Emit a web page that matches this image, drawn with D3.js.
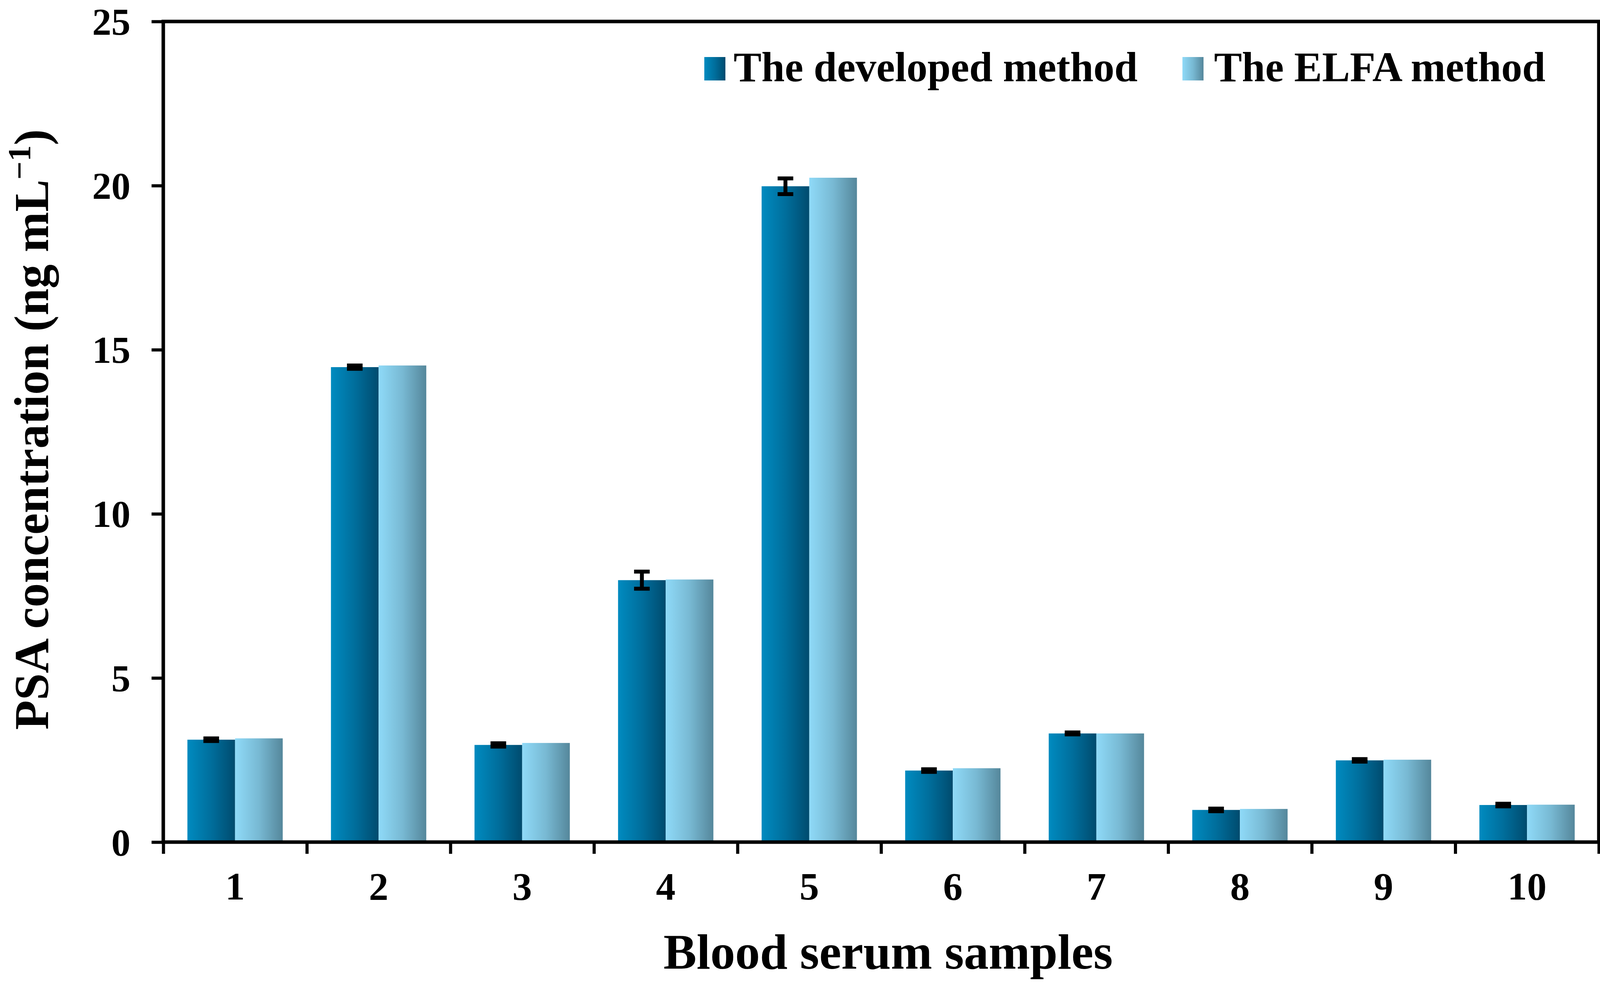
<!DOCTYPE html>
<html>
<head>
<meta charset="utf-8">
<script src="https://cdn.jsdelivr.net/npm/d3@7"></script>
<style>
	html, body { margin: 0; padding: 0; background: #fff; overflow: hidden; }
	svg { display: block; }
	text { font-family: "Liberation Serif", "Times New Roman", serif; font-weight: bold; fill: #000; }
</style>
</head>
<body>
<svg id="chart"></svg>
<script>
// data
const samples = ['1', '2', '3', '4', '5', '6', '7', '8', '9', '10'];
const seriesNames = ['The developed method', 'The ELFA method'];
const developedValues = [3.12, 14.47, 2.96, 7.98, 19.98, 2.18, 3.31, 0.98, 2.49, 1.13];
const developedErrors = [0.04, 0.05, 0.05, 0.26, 0.24, 0.04, 0.03, 0.04, 0.04, 0.04];
const elfaValues = [3.16, 14.52, 3.02, 8.00, 20.24, 2.25, 3.31, 1.01, 2.51, 1.14];
const yTicks = [0, 5, 10, 15, 20, 25];

const W = 4117, H = 2527;
const margin = { top: 55, right: 24, bottom: 371, left: 418 };
const width = W - margin.left - margin.right;
const height = H - margin.top - margin.bottom;

const svg = d3.select('#chart').attr('width', W).attr('height', H);
svg.append('rect').attr('width', W).attr('height', H).attr('fill', '#fff');

const defs = svg.append('defs');
const makeGradient = (id, stops) => {
	const g = defs.append('linearGradient').attr('id', id)
		.attr('x1', '0%').attr('x2', '100%').attr('y1', '0%').attr('y2', '0%');
	stops.forEach(([o, c]) => g.append('stop').attr('offset', o).attr('stop-color', c));
};
makeGradient('grad-dev', [['0%', '#008bc0'], ['50%', '#006e9c'], ['100%', '#004b6e']]);
makeGradient('grad-elfa', [['0%', '#8fdaf8'], ['50%', '#78b9d3'], ['100%', '#55879b']]);
const fills = ['url(#grad-dev)', 'url(#grad-elfa)'];

const g = svg.append('g').attr('transform', 'translate(' + margin.left + ',' + margin.top + ')');

// scales
const x0 = d3.scaleBand().domain(samples).range([0, width]).padding(0);
const x1 = d3.scaleBand().domain(seriesNames)
	.range([x0.bandwidth() * 0.168, x0.bandwidth() * 0.832]);
const xEdges = d3.scaleLinear().domain([0, samples.length]).range([0, width]);
const y = d3.scaleLinear().domain([0, 25]).range([height, 0]);

const rows = samples.map((s, i) => ({
	sample: s,
	bars: [
		{ key: seriesNames[0], value: developedValues[i], err: developedErrors[i] },
		{ key: seriesNames[1], value: elfaValues[i], err: 0 }
	]
}));

// bars
const groups = g.selectAll('.bar-group').data(rows).join('g')
	.attr('class', 'bar-group')
	.attr('transform', d => 'translate(' + x0(d.sample) + ',0)');

groups.selectAll('rect').data(d => d.bars).join('rect')
	.attr('x', d => x1(d.key))
	.attr('width', x1.bandwidth())
	.attr('y', d => y(d.value))
	.attr('height', d => height - y(d.value))
	.attr('fill', (d, i) => fills[i]);

// error bars on the developed method
const errG = groups.selectAll('.err').data(d => d.bars.filter(b => b.err > 0)).join('g')
	.attr('class', 'err')
	.attr('stroke', '#000')
	.attr('stroke-width', 10);
const cx = d => x1(d.key) + x1.bandwidth() / 2;
errG.append('line')
	.attr('x1', cx).attr('x2', cx)
	.attr('y1', d => y(d.value + d.err)).attr('y2', d => y(d.value - d.err));
[1, -1].forEach(s => {
	errG.append('line')
		.attr('x1', d => cx(d) - 20).attr('x2', d => cx(d) + 20)
		.attr('y1', d => y(d.value + s * d.err)).attr('y2', d => y(d.value + s * d.err));
});

// y axis
const yAxis = g.append('g').attr('class', 'y axis')
	.call(d3.axisLeft(y).tickValues(yTicks).tickSize(30).tickPadding(54));
yAxis.select('.domain').remove();
yAxis.selectAll('.tick line').attr('stroke', '#000').attr('stroke-width', 8);
yAxis.selectAll('.tick text').attr('font-size', 98).attr('dy', '0.34em')
	.style('font-family', '"Liberation Serif", serif').style('font-weight', 'bold');

// x axis: edge ticks and centred labels
const xTicks = g.append('g').attr('transform', 'translate(0,' + height + ')')
	.call(d3.axisBottom(xEdges).tickValues(d3.range(0, samples.length + 1)).tickSize(30).tickFormat(''));
xTicks.select('.domain').remove();
xTicks.selectAll('.tick line').attr('stroke', '#000').attr('stroke-width', 8);

const xAxis = g.append('g').attr('class', 'x axis').attr('transform', 'translate(0,' + height + ')')
	.call(d3.axisBottom(x0).tickSize(0).tickPadding(76));
xAxis.select('.domain').remove();
xAxis.selectAll('.tick text').attr('font-size', 100)
	.style('font-family', '"Liberation Serif", serif').style('font-weight', 'bold');

// frame
g.append('rect')
	.attr('x', 0).attr('y', 0).attr('width', width).attr('height', height)
	.attr('fill', 'none').attr('stroke', '#000').attr('stroke-width', 9);

// axis titles
svg.append('text')
	.attr('x', margin.left + width / 2 + 18).attr('y', 2480)
	.attr('text-anchor', 'middle').attr('font-size', 127)
	.text('Blood serum samples');

const yTitle = svg.append('text')
	.attr('transform', 'translate(123,' + (margin.top + height / 2 - 6) + ') rotate(-90)')
	.attr('text-anchor', 'middle').attr('font-size', 124);
yTitle.append('tspan').text('PSA concentration (ng mL');
yTitle.append('tspan').attr('dy', -46).attr('font-size', 82).text('\u22121');
yTitle.append('tspan').attr('dy', 46).text(')');

// legend
const legendItems = [
	{ name: seriesNames[0], swatchX: 1803, textX: 1878 },
	{ name: seriesNames[1], swatchX: 3027, textX: 3108 }
];
const legend = svg.append('g').attr('class', 'legend');
legend.selectAll('rect').data(legendItems).join('rect')
	.attr('x', d => d.swatchX).attr('y', 146)
	.attr('width', 54).attr('height', 60)
	.attr('fill', (d, i) => fills[i]);
legend.selectAll('text').data(legendItems).join('text')
	.attr('x', d => d.textX).attr('y', 208)
	.attr('font-size', 107)
	.text(d => d.name);
</script>
</body>
</html>
